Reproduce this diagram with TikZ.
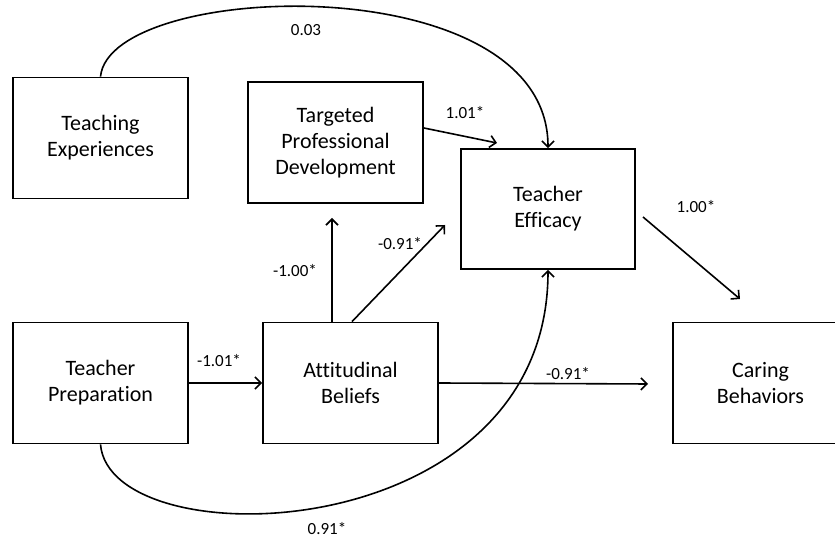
\documentclass[tikz,border=0pt]{standalone}
\usepackage{fontspec}
\setmainfont{Carlito}[RawFeature=-liga]
\usetikzlibrary{arrows.meta}
\tikzset{
  var/.style={draw, line width=1.8pt, minimum width=175pt, minimum height=121pt,
    inner sep=0pt, align=center, font=\fontsize{22}{26}\selectfont},
  lbl/.style={font=\fontsize{17}{20}\selectfont, inner sep=0pt},
  arr/.style={line width=1.6pt, -{Straight Barb[length=6pt,width=12pt,line width=1.6pt]}}
}
\begin{document}
\begin{tikzpicture}[x=1pt,y=1pt]
      \useasboundingbox (0,0) rectangle (835,540);
      \clip (0,0) rectangle (835,540);
      \draw
        (100.5,402) node[var] (texp){Teaching\\Experiences}
        (335.5,397.5) node[var] (tpd){Targeted\\Professional\\Development}
        (548,331) node[var, minimum width=174pt, minimum height=120pt] (teff){Teacher\\Efficacy}
        (100.5,157) node[var] (tprep){Teacher\\Preparation}
        (350.5,157) node[var] (attb){Attitudinal\\Beliefs}
        (760.5,157) node[var] (care){Caring\\Behaviors};
      \coordinate (tpdin) at (332,322);
      \coordinate (effin) at (445,315);
      \coordinate (effne) at (497,397);
      \coordinate (efout) at (643,323);
      \coordinate (carein) at (740,241);
      \coordinate (carew) at (648,156);
      \begin{scope}[arr]
        \draw (texp.north) .. controls (110,560) and (548,575) .. (teff.north);
        \draw (tprep.south) .. controls (110,-20) and (548,-10) .. (teff.south);
        \draw ([yshift=14.5pt]tpd.east) to (effne);
        \draw (attb.north -| tpdin) to (tpdin);
        \draw ([xshift=1.5pt]attb.north) to (effin);
        \draw (tprep.east) to (attb.west);
        \draw (attb.east) to (carew);
        \draw (efout) to (carein);
      \end{scope}
      \node[lbl] (w1) at (306,510) {0.03};
      \node[lbl] (w2) at (465,427) {1.01*};
      \node[lbl] (w3) at (295,269) {-1.00*};
      \node[lbl] (w4) at (400,296) {-0.91*};
      \node[lbl] (w5) at (219,179) {-1.01*};
      \node[lbl] (w6) at (568,166) {-0.91*};
      \node[lbl] (w7) at (696,333) {1.00*};
      \node[lbl] (w8) at (327,11) {0.91*};
    \end{tikzpicture}
\end{document}
